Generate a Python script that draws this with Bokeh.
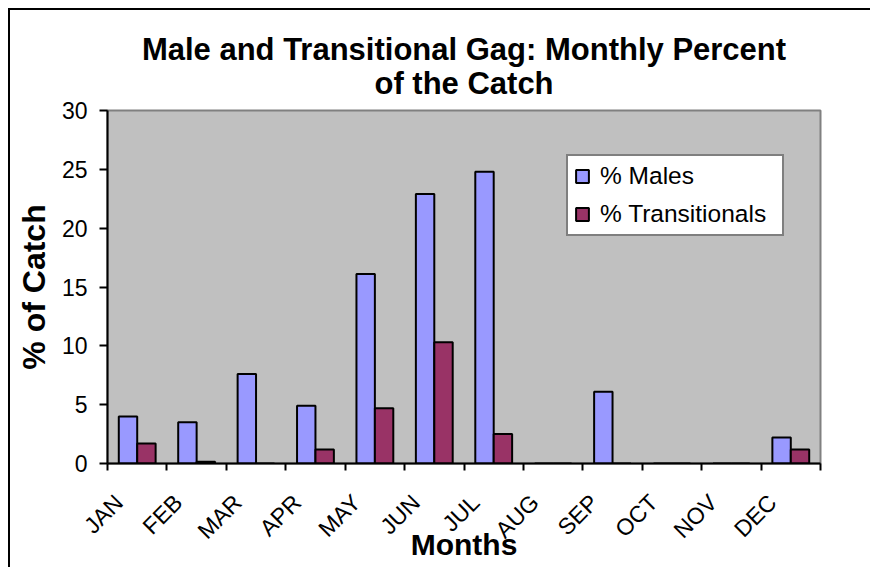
import math
from bokeh.plotting import figure
from bokeh.models import Range1d, FixedTicker, Title, ColumnDataSource
from bokeh.embed import file_html
from bokeh.resources import INLINE

months = ["JAN", "FEB", "MAR", "APR", "MAY", "JUN", "JUL", "AUG", "SEP", "OCT", "NOV", "DEC"]
males = [4.0, 3.5, 7.6, 4.9, 16.1, 22.9, 24.8, 0.0, 6.1, 0.0, 0.0, 2.2]
transitionals = [1.7, 0.15, 0.0, 1.2, 4.7, 10.3, 2.5, 0.0, 0.0, 0.0, 0.0, 1.2]
y_ticks = [0, 5, 10, 15, 20, 25, 30]

BAR_W = 0.31
LABEL_SHIFT = 0.31
idx = list(range(len(months)))
src = ColumnDataSource(dict(
    xm=[i + 0.5 - BAR_W / 2 for i in idx],
    xt=[i + 0.5 + BAR_W / 2 for i in idx],
    males=males,
    trans=transitionals,
))

p = figure(width=864, height=559, output_backend="svg", toolbar_location=None,
           x_range=Range1d(0, 12), y_range=Range1d(0, 30),
           min_border_left=97, min_border_right=54, min_border_top=100, min_border_bottom=106)
p.title = None
p.styles = {"margin-left": "8px", "margin-top": "8px",
            "border-top": "2px solid black", "border-left": "2px solid black"}
p.background_fill_color = "#C0C0C0"
p.border_fill_color = "white"
p.outline_line_color = "#808080"
p.outline_line_width = 2
p.xgrid.visible = False
p.ygrid.visible = False

p.vbar(x="xm", top="males", bottom=0, width=BAR_W, source=src, fill_color="#9999FF",
       line_color="black", line_width=2, legend_label="% Males")
p.vbar(x="xt", top="trans", bottom=0, width=BAR_W, source=src, fill_color="#993366",
       line_color="black", line_width=2, legend_label="% Transitionals")

label_pos = [i + 0.5 - LABEL_SHIFT for i in idx]
xa = p.xaxis[0]
xa.ticker = FixedTicker(ticks=label_pos, minor_ticks=list(range(13)))
xa.major_label_overrides = {pos: m for pos, m in zip(label_pos, months)}
xa.major_label_orientation = math.pi / 4
xa.major_tick_out = 0
xa.major_tick_in = 0
xa.major_tick_line_color = None
xa.minor_tick_out = 7
xa.minor_tick_in = 0
xa.minor_tick_line_color = "black"
xa.minor_tick_line_width = 2
xa.axis_line_color = "black"
xa.axis_line_width = 2
xa.major_label_standoff = 28
xa.major_label_text_font = "Liberation Sans"
xa.major_label_text_font_size = "23px"
xa.major_label_text_color = "black"
xa.axis_label = "Months"
xa.axis_label_text_font = "Liberation Sans"
xa.axis_label_text_font_size = "30px"
xa.axis_label_text_font_style = "bold"
xa.axis_label_text_color = "black"
xa.axis_label_standoff = -28

ya = p.yaxis[0]
ya.ticker = FixedTicker(ticks=y_ticks)
ya.major_tick_out = 8
ya.major_tick_in = 0
ya.major_tick_line_color = "black"
ya.major_tick_line_width = 2
ya.minor_tick_line_color = None
ya.axis_line_color = "black"
ya.axis_line_width = 2
ya.major_label_standoff = 12
ya.major_label_text_font = "Liberation Sans"
ya.major_label_text_font_size = "23px"
ya.major_label_text_color = "black"
ya.axis_label = "% of Catch"
ya.axis_label_text_font = "Liberation Sans"
ya.axis_label_text_font_size = "32px"
ya.axis_label_text_font_style = "bold"
ya.axis_label_text_color = "black"
ya.axis_label_standoff = 7

t2 = Title(text="of the Catch", align="center", text_font="Liberation Sans",
           text_font_size="31px", text_font_style="bold", text_color="black",
           standoff=20)
t1 = Title(text="Male and Transitional Gag: Monthly Percent", align="center",
           text_font="Liberation Sans", text_font_size="31px", text_font_style="bold",
           text_color="black", standoff=-27)
p.add_layout(t2, "above")
p.add_layout(t1, "above")

lg = p.legend[0]
lg.location = (459, 227)
lg.background_fill_color = "white"
lg.background_fill_alpha = 1
lg.border_line_color = "black"
lg.border_line_width = 2
lg.glyph_width = 16
lg.glyph_height = 16
lg.label_text_font = "Liberation Sans"
lg.label_text_font_size = "24.5px"
lg.label_text_color = "black"
lg.label_standoff = 10
lg.label_width = 176
lg.padding = 6
lg.spacing = 10
lg.margin = 0

open("out.html", "w").write(file_html(p, INLINE))
